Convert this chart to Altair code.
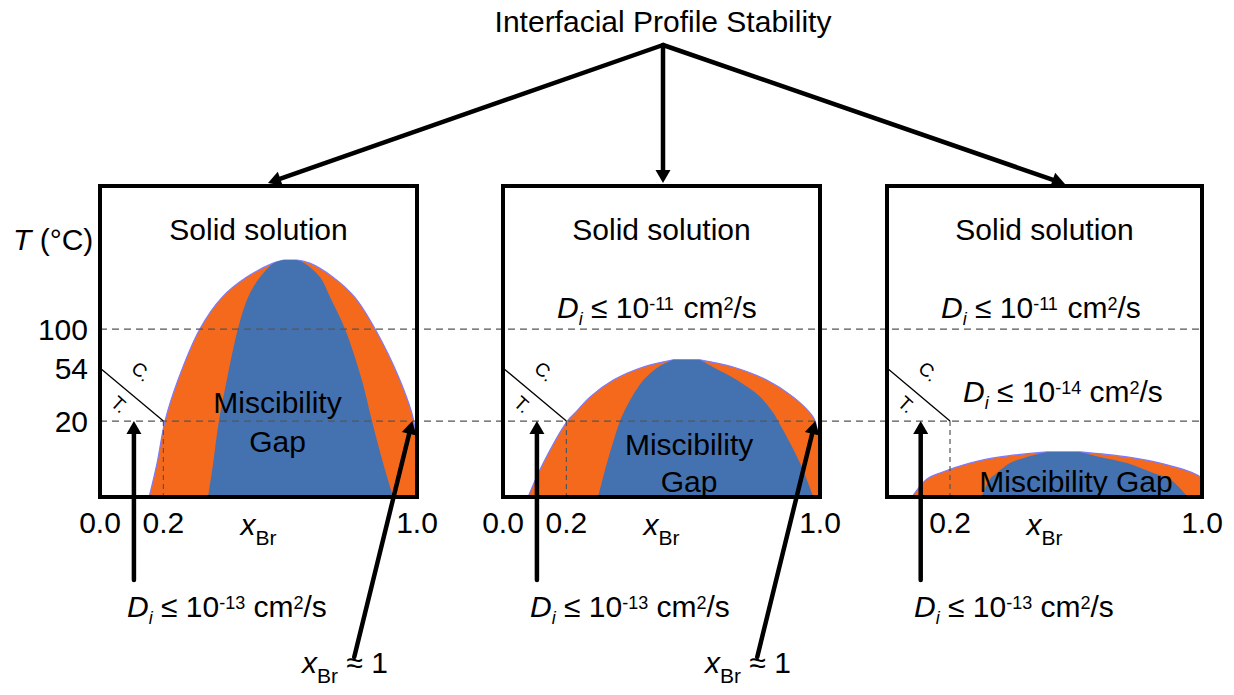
import math
import altair as alt
import pandas as pd

# ---------------- colours / font ----------------
ORANGE = "#F5691C"
BLUE = "#4472B0"
OUTLINE = "#7B7BFF"
FONT = "Liberation Sans"

# ---------------- panel layout (page pixels) ----------------
PANEL_LEFT = [100, 503, 887]
PANEL_RIGHT = [417, 820, 1202]
PANEL_TOP = 186
PANEL_BOTTOM = 497

# temperature ticks: label and relative height inside the panel (0 = bottom, 1 = top)
T_TICKS = ["100", "54", "20"]
T_HEIGHT = [0.540, 0.415, 0.244]
H100, H54, H20 = T_HEIGHT

# x_Br tick labels per panel
X_TICKS = [["0.0", "0.2", "1.0"], ["0.0", "0.2", "1.0"], ["0.2", "1.0"]]
X_TICK_VALUES = [[0.0, 0.2, 1.0], [0.0, 0.2, 1.0], [0.2, 1.0]]

# ---------------- miscibility gaps ----------------
# relative heights, x_Br of outer (binodal, orange) and inner (spinodal, blue) boundaries
GAP1_H = [0.0, 0.109, 0.244, 0.376, 0.540, 0.642, 0.707, 0.752, 0.762]
GAP1_OUT_L = [0.155, 0.180, 0.205, 0.246, 0.315, 0.385, 0.463, 0.546, 0.580]
GAP1_OUT_R = [1.000, 1.000, 0.990, 0.946, 0.868, 0.804, 0.735, 0.662, 0.620]
GAP1_IN_L = [0.341, 0.357, 0.375, 0.400, 0.435, 0.467, 0.505, 0.548, 0.580]
GAP1_IN_R = [0.925, 0.893, 0.858, 0.826, 0.773, 0.726, 0.694, 0.645, 0.620]

GAP2_H = [0.0, 0.109, 0.244, 0.270, 0.322, 0.376, 0.418, 0.441]
GAP2_OUT_L = [0.079, 0.127, 0.203, 0.227, 0.275, 0.348, 0.442, 0.537]
GAP2_OUT_R = [1.000, 1.000, 0.985, 0.969, 0.915, 0.832, 0.726, 0.621]
GAP2_IN_L = [0.300, 0.328, 0.369, 0.380, 0.407, 0.443, 0.490, 0.537]
GAP2_IN_R = [0.979, 0.937, 0.868, 0.853, 0.811, 0.738, 0.662, 0.621]

GAP3_H = [0.0, 0.058, 0.077, 0.109, 0.129, 0.145]
GAP3_OUT_L = [0.079, 0.127, 0.168, 0.263, 0.359, 0.508]
GAP3_OUT_R = [1.000, 1.000, 0.972, 0.867, 0.762, 0.613]
GAP3_IN_L = [0.300, 0.327, 0.349, 0.390, 0.444, 0.508]
GAP3_IN_R = [0.955, 0.898, 0.845, 0.762, 0.676, 0.613]

GAPS = [
    (GAP1_H, GAP1_OUT_L, GAP1_OUT_R, GAP1_IN_L, GAP1_IN_R),
    (GAP2_H, GAP2_OUT_L, GAP2_OUT_R, GAP2_IN_L, GAP2_IN_R),
    (GAP3_H, GAP3_OUT_L, GAP3_OUT_R, GAP3_IN_L, GAP3_IN_R),
]

# arrow anchor in x_Br for the lower arrows
ARROW_UP_XBR = 0.107
ARROW_DIAG_XBR = 0.985


def sx(p, xb):
    return PANEL_LEFT[p] + xb * (PANEL_RIGHT[p] - PANEL_LEFT[p])


def sy(h):
    return PANEL_BOTTOM - h * (PANEL_BOTTOM - PANEL_TOP)


# ---------------- scales ----------------
XS = alt.Scale(domain=[8, 1226], nice=False, zero=False)
YS = alt.Scale(domain=[8, 687], nice=False, zero=False, reverse=True)


def X(f):
    return alt.X(f, type="quantitative", scale=XS, axis=None)


def Y(f):
    return alt.Y(f, type="quantitative", scale=YS, axis=None)


layers = []

# ---------------- gap areas ----------------
outer_rows, inner_rows = [], []
for p, (hs, ol, orr, il, ir) in enumerate(GAPS):
    for h, a, b, c, d in zip(hs, ol, orr, il, ir):
        outer_rows.append(dict(panel=p, y=sy(h), xl=sx(p, a), xr=sx(p, b)))
        inner_rows.append(dict(panel=p, y=sy(h), xl=sx(p, c), xr=sx(p, d)))

layers.append(
    alt.Chart(pd.DataFrame(outer_rows)).mark_area(
        orient="horizontal", interpolate="catmull-rom", fill=ORANGE,
        stroke=OUTLINE, strokeWidth=1.2
    ).encode(y=Y("y"), x=X("xl"), x2=alt.X2("xr"), detail="panel:N")
)
layers.append(
    alt.Chart(pd.DataFrame(inner_rows)).mark_area(
        orient="horizontal", interpolate="catmull-rom", fill=BLUE
    ).encode(y=Y("y"), x=X("xl"), x2=alt.X2("xr"), detail="panel:N")
)

# ---------------- dashed guide lines ----------------
hdash = pd.DataFrame([
    dict(x=PANEL_LEFT[0], x2=PANEL_RIGHT[2], y=sy(H100)),
    dict(x=PANEL_LEFT[0], x2=PANEL_RIGHT[2], y=sy(H20)),
])
layers.append(
    alt.Chart(hdash).mark_rule(color="#555555", strokeWidth=1.2, strokeDash=[7, 5]).encode(
        x=X("x"), x2=alt.X2("x2"), y=Y("y"))
)
vdash = pd.DataFrame([dict(x=sx(p, 0.2), y=sy(H20), y2=sy(0)) for p in range(3)])
layers.append(
    alt.Chart(vdash).mark_rule(color="#555555", strokeWidth=1.2, strokeDash=[5, 4]).encode(
        x=X("x"), y=Y("y"), y2=alt.Y2("y2"))
)

# ---------------- T.C. lines ----------------
tc = pd.DataFrame([dict(x=sx(p, 0), y=sy(H54), x2=sx(p, 0.2), y2=sy(H20)) for p in range(3)])
layers.append(
    alt.Chart(tc).mark_rule(color="black", strokeWidth=1.3).encode(
        x=X("x"), y=Y("y"), x2=alt.X2("x2"), y2=alt.Y2("y2"))
)

# ---------------- panel boxes ----------------
boxes = pd.DataFrame([dict(x=PANEL_LEFT[p], x2=PANEL_RIGHT[p], y=PANEL_TOP, y2=PANEL_BOTTOM) for p in range(3)])
layers.append(
    alt.Chart(boxes).mark_rect(fillOpacity=0, stroke="black", strokeWidth=4).encode(
        x=X("x"), x2=alt.X2("x2"), y=Y("y"), y2=alt.Y2("y2"))
)

# ---------------- texts ----------------
AW = {" ": 278, "(": 333, ")": 333, "°": 400, "C": 722, "T": 611, "D": 722, "i": 222,
      "≤": 549, "-": 333, "c": 500, "m": 833, "/": 278, "s": 500, "x": 500, "B": 667,
      "r": 333, "≈": 549, ".": 278}


def adv(s, size):
    return sum(AW.get(c, 556) for c in s) * size / 1000.0


KIND = {
    "n": (30, 0, "normal"),
    "it": (30, 0, "italic"),
    "sup": (18, -8, "normal"),
    "sub": (18, 7, "italic"),
    "subB": (21, 10, "normal"),
}

text_rows = []


def simple(text, x, y, size=30, align="center", style="normal"):
    text_rows.append(dict(x=x, y=y, text=text, size=size, align=align, style=style))


def composite(segs, left, base):
    x = left
    for t, k in segs:
        size, dy, style = KIND[k]
        lead = len(t) - len(t.lstrip(" "))
        trail = len(t) - len(t.rstrip(" "))
        core = t.strip(" ")
        x += lead * adv(" ", size)
        text_rows.append(dict(x=x, y=base + dy, text=core, size=size, align="left", style=style))
        x += adv(core, size) + trail * adv(" ", size)


def width(segs):
    return sum(adv(t, KIND[k][0]) for t, k in segs)


D11 = [("D", "it"), ("i", "sub"), (" ≤ 10", "n"), ("-11", "sup"), (" cm", "n"), ("2", "sup"), ("/s", "n")]
D13 = [("D", "it"), ("i", "sub"), (" ≤ 10", "n"), ("-13", "sup"), (" cm", "n"), ("2", "sup"), ("/s", "n")]
D14 = [("D", "it"), ("i", "sub"), (" ≤ 10", "n"), ("-14", "sup"), (" cm", "n"), ("2", "sup"), ("/s", "n")]
XBR = [("x", "it"), ("Br", "subB")]
XBR1 = [("x", "it"), ("Br", "subB"), (" ≈ 1", "n")]
TLABEL = [("T", "it"), (" (°C)", "n")]

simple("Interfacial Profile Stability", 663, 32, size=30)
for p in range(3):
    simple("Solid solution", sx(p, 0.50), 240)
simple("Miscibility", sx(0, 0.56), 413)
simple("Gap", sx(0, 0.56), 452)
simple("Miscibility", sx(1, 0.587), 455)
simple("Gap", sx(1, 0.587), 492)
simple("Miscibility Gap", sx(2, 0.60), 492)
for p in range(3):
    for lab, v in zip(X_TICKS[p], X_TICK_VALUES[p]):
        simple(lab, sx(p, v), 533)
for lab, h in zip(T_TICKS, T_HEIGHT):
    simple(lab, PANEL_LEFT[0] - 12, sy(h) + 11, align="right")

composite(TLABEL, 13, 250)
for p in range(3):
    composite(XBR, sx(p, 0.5) - width(XBR) / 2, 535)
    composite(D13, sx(p, 0) + 27, 617)
for p in (1, 2):
    composite(D11, sx(p, 0) + 54, 318)
composite(D14, sx(2, 0) + 76, 402)
for p in (0, 1):
    composite(XBR1, sx(p, 0) + 202, 673)

tdf = pd.DataFrame(text_rows)
for (align, style), g in tdf.groupby(["align", "style"]):
    layers.append(
        alt.Chart(g).mark_text(font=FONT, fontStyle=style, align=align, baseline="alphabetic",
                               color="black").encode(
            x=X("x"), y=Y("y"), text="text:N", size=alt.Size("size:Q", scale=None))
    )

# T. / C. markers on both sides of the T.C. line (rotated along it)
tcl = []
for p in range(3):
    tcl.append(dict(x=sx(p, 0) + 41, y=372, text="C."))
    tcl.append(dict(x=sx(p, 0) + 19, y=405, text="T."))
layers.append(
    alt.Chart(pd.DataFrame(tcl)).mark_text(font=FONT, fontSize=19, align="center", baseline="middle",
                                           angle=42, color="black").encode(
        x=X("x"), y=Y("y"), text="text:N")
)

# ---------------- arrows ----------------
APEX = (663, 45)
arrows = [
    (APEX[0], APEX[1], 268, 183),
    (APEX[0], APEX[1], 663, 183),
    (APEX[0], APEX[1], 1065, 184),
]
for p in range(3):
    xa = sx(p, ARROW_UP_XBR)
    arrows.append((xa, 580, xa, sy(H20)))
for p in (0, 1):
    xt = sx(p, ARROW_DIAG_XBR)
    arrows.append((xt - 58, 657, xt, sy(H20)))

HEAD_W = 15
shaft, heads = [], []
for x0, y0, x1, y1 in arrows:
    dx, dy = x1 - x0, y1 - y0
    L = math.hypot(dx, dy)
    ux, uy = dx / L, dy / L
    hh = HEAD_W * math.sqrt(3) / 4
    cx, cy = x1 - ux * hh, y1 - uy * hh
    ang = math.degrees(math.atan2(dx, -dy)) % 360
    shaft.append(dict(x=x0, y=y0, x2=cx, y2=cy))
    heads.append(dict(x=cx, y=cy, ang=ang))

layers.append(
    alt.Chart(pd.DataFrame(shaft)).mark_rule(color="black", strokeWidth=4.5, strokeCap="round").encode(
        x=X("x"), y=Y("y"), x2=alt.X2("x2"), y2=alt.Y2("y2"))
)
layers.append(
    alt.Chart(pd.DataFrame(heads)).mark_point(shape="triangle-up", filled=True, size=HEAD_W ** 2,
                                              color="black", opacity=1).encode(
        x=X("x"), y=Y("y"), angle=alt.Angle("ang:Q", scale=None))
)

chart = alt.layer(*layers).properties(
    width=1218, height=679, padding=0, autosize="none", background="white"
).configure_view(stroke=None)

chart.save("out.html", embed_options={"renderer": "svg", "actions": False})
